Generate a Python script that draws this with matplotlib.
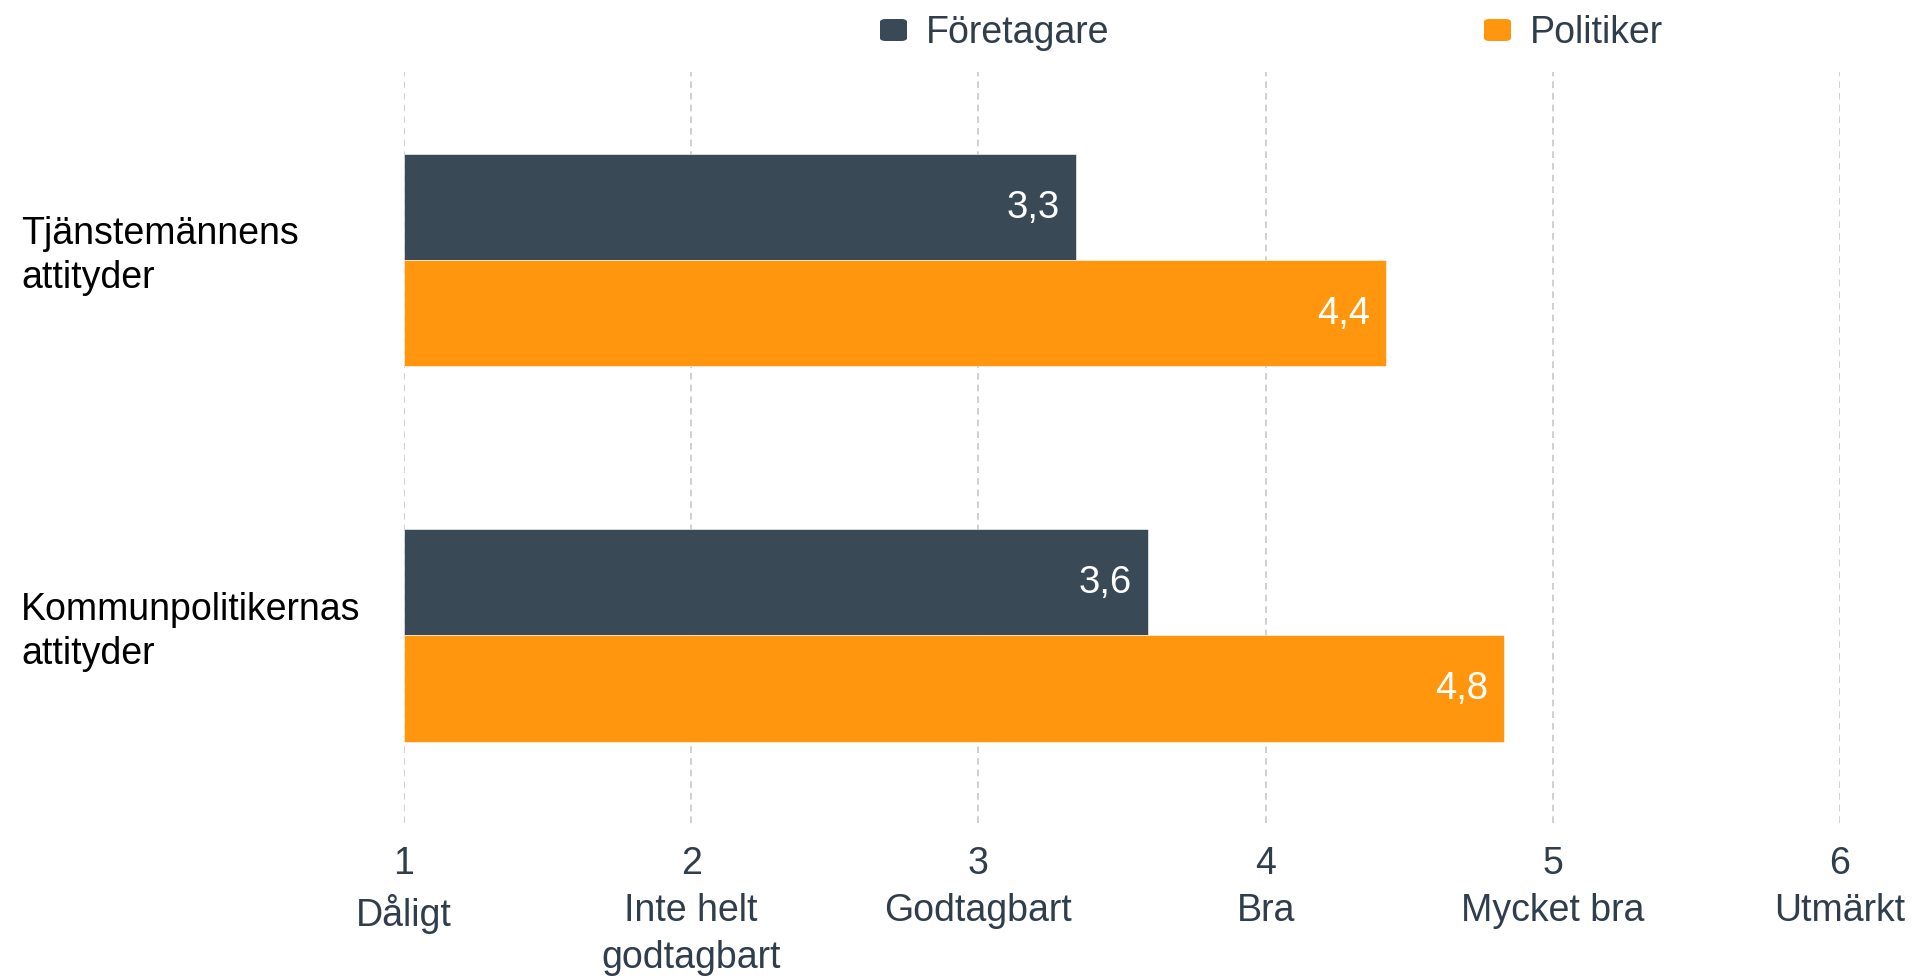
import matplotlib.pyplot as plt
import matplotlib.transforms as mtransforms
from matplotlib.patches import FancyBboxPatch
import numpy as np

plt.rcParams['font.family'] = ['Liberation Sans', 'DejaVu Sans']

# Data
categories = ["Tjänstemännens\nattityder", "Kommunpolitikernas\nattityder"]
series_names = ["Företagare", "Politiker"]
foretagare = [3.34, 3.59]
politiker = [4.42, 4.83]
scale_ticks = [1, 2, 3, 4, 5, 6]
scale_names = ["Dåligt", "Inte helt\ngodtagbart", "Godtagbart", "Bra",
               "Mycket bra", "Utmärkt"]

dark = "#394956"
orange = "#FF960D"
text_col = "#2F3D4C"

fig = plt.figure(figsize=(19.14, 9.79), dpi=100)
ax = fig.add_axes([0.2111, 0.1583, 0.9613 - 0.2111, 0.9254 - 0.1583])

y = np.arange(len(categories))
h = 0.283
ax.barh(y - h / 2, np.array(foretagare) - 1, left=1, height=h,
        color=dark, edgecolor="white", linewidth=0.4, zorder=3)
ax.barh(y + h / 2, np.array(politiker) - 1, left=1, height=h,
        color=orange, edgecolor="white", linewidth=0.4, zorder=3)

# value labels inside bar ends
off = 0.055
for i in range(len(categories)):
    ax.text(foretagare[i] - off, y[i] - h / 2, f"{foretagare[i]:.1f}".replace(".", ","),
            ha="right", va="center", color="white", fontsize=27.5, zorder=4)
    ax.text(politiker[i] - off, y[i] + h / 2, f"{politiker[i]:.1f}".replace(".", ","),
            ha="right", va="center", color="white", fontsize=27.5, zorder=4)

ax.set_xlim(1, 6)
ax.set_ylim(1.5, -0.5)
ax.set_yticks([])
for s in ax.spines.values():
    s.set_visible(False)

# dashed grid at each scale step
for t in scale_ticks:
    ax.axvline(t, color="#C8C8C8", linestyle=(0, (4, 3)), linewidth=1.2, zorder=1)

ax.set_xticks(scale_ticks)
ax.set_xticklabels([f"{t}\n{n}" for t, n in zip(scale_ticks, scale_names)],
                   fontsize=27, color=text_col, linespacing=1.38, va="top")
ax.tick_params(axis="x", length=0, pad=16)

# category labels at far left
trans = mtransforms.blended_transform_factory(fig.transFigure, ax.transData)
for i, c in enumerate(categories):
    ax.text(21 / 1914, y[i] - 0.012, c, transform=trans, ha="left", va="center",
            fontsize=27, color="black", linespacing=1.3)

# legend drawn by hand
W, H = 1914, 979
legend_items = [(series_names[0], dark, 880), (series_names[1], orange, 1484)]
for name, col, px in legend_items:
    fig.patches.append(FancyBboxPatch((px / W, (H - 42) / H), 27 / W, 22 / H,
                                      boxstyle="round,pad=0,rounding_size=0.003",
                                      transform=fig.transFigure, facecolor=col,
                                      edgecolor="none"))
    fig.text((px + 46) / W, 1 - 33 / H, name, ha="left", va="center",
             fontsize=27, color=text_col)

fig.savefig("out.png", dpi=100, facecolor="white")
